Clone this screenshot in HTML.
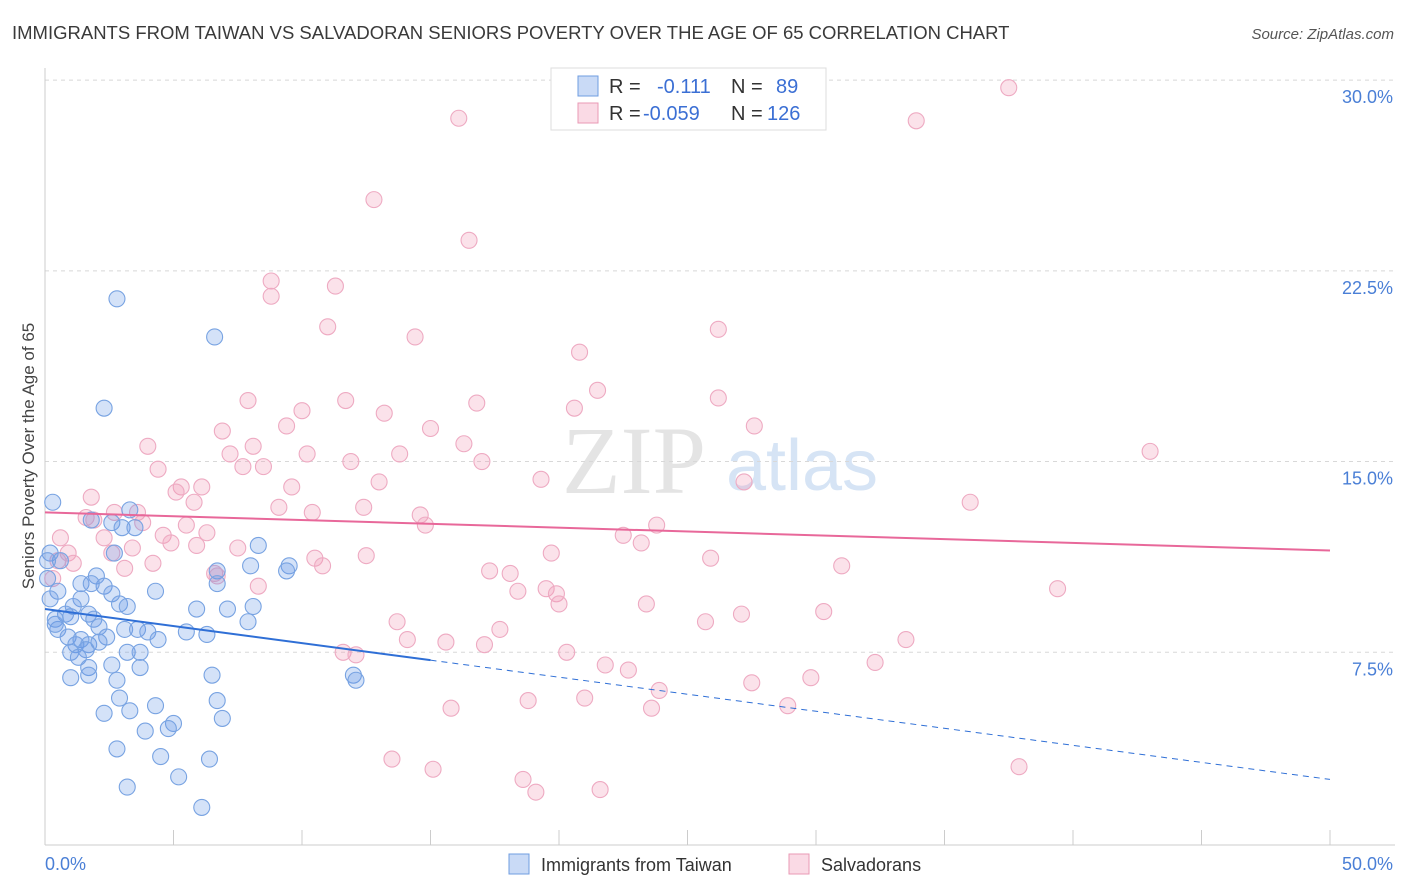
<!DOCTYPE html>
<html><head><meta charset="utf-8">
<style>
body{margin:0;background:#fff;font-family:"Liberation Sans",sans-serif;}
#wrap{position:relative;width:1406px;height:892px;overflow:hidden;}
</style></head>
<body>
<div id="wrap">
<svg id="svg" width="1406" height="892" xmlns="http://www.w3.org/2000/svg">
<text x="12" y="39" font-size="18.5" fill="#3a3a3a">IMMIGRANTS FROM TAIWAN VS SALVADORAN SENIORS POVERTY OVER THE AGE OF 65 CORRELATION CHART</text>
<text x="1394" y="39" font-size="15" fill="#555" font-style="italic" text-anchor="end">Source: ZipAtlas.com</text>
<text x="634" y="493" font-size="96" fill="#e4e4e4" font-family="Liberation Serif,serif" text-anchor="middle">ZIP</text>
<text x="802" y="490" font-size="72" fill="#d6e4f5" text-anchor="middle">atlas</text>
<g id="grid"></g><g id="axes"></g><g id="pts"></g><g id="trend"></g>
<text x="34" y="456" font-size="17" fill="#444" text-anchor="middle" transform="rotate(-90 34 456)">Seniors Poverty Over the Age of 65</text>
<g>
<rect x="551" y="68" width="275" height="62" fill="#fff" stroke="#ddd"/>
<rect x="578" y="76" width="20" height="20" fill="rgba(100,150,230,0.35)" stroke="#6f9de0"/>
<text x="609" y="93" font-size="20" fill="#333">R = </text>
<text x="657" y="93" font-size="20" fill="#3b6fd4">-0.111</text>
<text x="731" y="93" font-size="20" fill="#333">N =</text>
<text x="776" y="93" font-size="20" fill="#3b6fd4">89</text>
<rect x="578" y="103" width="20" height="20" fill="rgba(240,150,180,0.35)" stroke="#e99ab5"/>
<text x="609" y="120" font-size="20" fill="#333">R = </text>
<text x="643" y="120" font-size="20" fill="#3b6fd4">-0.059</text>
<text x="731" y="120" font-size="20" fill="#333">N =</text>
<text x="767" y="120" font-size="20" fill="#3b6fd4">126</text>
</g>
<g>
<rect x="509" y="854" width="20" height="20" fill="rgba(100,150,230,0.35)" stroke="#6f9de0"/>
<text x="541" y="871" font-size="18" fill="#333">Immigrants from Taiwan</text>
<rect x="789" y="854" width="20" height="20" fill="rgba(240,150,180,0.35)" stroke="#e99ab5"/>
<text x="821" y="871" font-size="18" fill="#333">Salvadorans</text>
</g>
</svg>
</div>
<script>
const yTicks=[7.5,15,22.5,30];
const yTickLabels=["7.5%","15.0%","22.5%","30.0%"];
const xTicks=[0,5,10,15,20,25,30,35,40,45,50];
const blueX=[0.3,2.8,6.6,2.3,3.3,2.6,3.0,3.5,1.8,8.3,0.2,0.6,2.7,8.0,9.5,9.4,6.7,0.1,2.0,1.4,2.3,1.8,6.7,2.6,4.3,1.4,0.5,2.9,3.2,5.9,7.1,8.1,1.1,1.7,0.8,1.0,0.4,1.9,7.9,0.5,2.1,3.1,3.6,4.0,5.5,6.3,0.9,1.4,2.4,4.4,1.2,1.7,2.1,1.0,1.6,3.2,3.7,1.3,2.6,1.7,3.7,6.5,12.0,1.0,1.7,2.8,12.1,2.9,4.3,6.7,2.3,3.3,6.9,5.0,4.8,3.9,2.8,4.5,6.4,5.2,3.2,6.1,0.1,0.2,0.4];
const blueY=[13.4,21.4,19.9,17.1,13.1,12.6,12.4,12.4,12.7,11.7,11.4,11.1,11.4,10.9,10.9,10.7,10.7,10.4,10.5,10.2,10.1,10.2,10.2,9.8,9.9,9.6,9.9,9.4,9.3,9.2,9.2,9.3,9.3,9.0,9.0,8.9,8.8,8.8,8.7,8.4,8.5,8.4,8.4,8.3,8.3,8.2,8.1,8.0,8.1,8.0,7.8,7.8,7.9,7.5,7.6,7.5,7.5,7.3,7.0,6.9,6.9,6.6,6.6,6.5,6.6,6.4,6.4,5.7,5.4,5.6,5.1,5.2,4.9,4.7,4.5,4.4,3.7,3.4,3.3,2.6,2.2,1.4,11.1,9.6,8.6];
const pinkX=[37.5,16.1,33.9,12.8,16.5,8.8,11.3,8.8,11.0,26.2,14.4,20.8,21.5,7.9,11.7,16.8,26.2,10.0,13.2,20.6,9.4,6.9,15.0,27.6,4.0,8.1,16.3,7.2,10.2,13.8,43.0,11.9,17.0,4.4,7.7,8.5,19.3,27.2,5.3,6.1,5.1,13.0,9.6,1.8,5.8,36.0,9.1,12.4,2.7,3.6,10.4,14.6,1.6,1.9,3.8,5.5,14.8,23.8,6.3,4.6,0.6,2.3,22.5,4.9,23.2,5.9,7.5,3.4,0.9,2.6,19.7,12.5,10.5,25.9,0.5,1.1,4.2,10.8,31.0,3.1,17.3,18.1,6.6,6.7,0.3,8.3,19.5,39.4,18.4,19.9,20.0,23.4,30.3,27.1,13.7,25.7,17.7,14.1,15.6,17.1,33.5,11.6,12.1,20.3,21.8,22.7,32.3,29.8,27.5,23.9,21.0,18.8,15.8,23.6,28.9,13.5,15.1,37.9,18.6,19.1,21.6];
const pinkY=[29.7,28.5,28.4,25.3,23.7,22.1,21.9,21.5,20.3,20.2,19.9,19.3,17.8,17.4,17.4,17.3,17.5,17.0,16.9,17.1,16.4,16.2,16.3,16.4,15.6,15.6,15.7,15.3,15.3,15.3,15.4,15.0,15.0,14.7,14.8,14.8,14.3,14.2,14.0,14.0,13.8,14.2,14.0,13.6,13.4,13.4,13.2,13.2,13.0,13.0,13.0,12.9,12.8,12.7,12.6,12.5,12.5,12.5,12.2,12.1,12.0,12.0,12.1,11.8,11.8,11.7,11.6,11.6,11.4,11.4,11.4,11.3,11.2,11.2,11.1,11.0,11.0,10.9,10.9,10.8,10.7,10.6,10.6,10.5,10.4,10.1,10.0,10.0,9.9,9.8,9.4,9.4,9.1,9.0,8.7,8.7,8.4,8.0,7.9,7.8,8.0,7.5,7.4,7.5,7.0,6.8,7.1,6.5,6.3,6.0,5.7,5.6,5.3,5.3,5.4,3.3,2.9,3.0,2.5,2.0,2.1];
const blueTrend=[9.2,2.5];
const pinkTrend=[13.0,11.5];
const blueSolidEnd=15;

const NS="http://www.w3.org/2000/svg";
const xs=v=>45+v*25.7;
const ys=v=>843-v*25.43;
function mk(tag,attrs,parent){const e=document.createElementNS(NS,tag);for(const k in attrs)e.setAttribute(k,attrs[k]);parent.appendChild(e);return e;}
const grid=document.getElementById('grid'),axes=document.getElementById('axes'),pts=document.getElementById('pts'),tr=document.getElementById('trend');
yTicks.forEach((t,i)=>{
 const l=mk('line',{x1:45,x2:1395,y1:ys(t),y2:ys(t),stroke:'#d8d8d8','stroke-dasharray':'4 4'},grid);
 
 
 const tx=mk('text',{x:1393,y:ys(t)+23,'font-size':18,fill:'#4a7fd6','text-anchor':'end'},axes);
 tx.textContent=yTickLabels[i];
 
 
});
const ya=mk('line',{x1:45,x2:45,y1:68,y2:845,stroke:'#ccc'},axes);


const xa=mk('line',{x1:45,x2:1395,y1:845,y2:845,stroke:'#ccc'},axes);


xTicks.forEach(t=>{
 const l=mk('line',{x1:xs(t),x2:xs(t),y1:830,y2:845,stroke:'#ccc'},axes);
 
 
});
const x0=mk('text',{x:45,y:870,'font-size':18,fill:'#4a7fd6'},axes);x0.textContent='0.0%';


const x1=mk('text',{x:1393,y:870,'font-size':18,fill:'#4a7fd6','text-anchor':'end'},axes);x1.textContent='50.0%';


pinkX.forEach((v,i)=>{
 const c=mk('circle',{cx:xs(v),cy:ys(pinkY[i]),r:8,fill:'rgba(240,150,180,0.28)',stroke:'#eeaac2','stroke-width':1.1},pts);
 
 
});
blueX.forEach((v,i)=>{
 const c=mk('circle',{cx:xs(v),cy:ys(blueY[i]),r:8,fill:'rgba(100,150,230,0.28)',stroke:'#78a3e2','stroke-width':1.1},pts);
 
 
});
const by=v=>blueTrend[0]+(blueTrend[1]-blueTrend[0])*v/50;
const b1=mk('line',{x1:xs(0),y1:ys(by(0)),x2:xs(blueSolidEnd),y2:ys(by(blueSolidEnd)),stroke:'#2f6fd6','stroke-width':2},tr);


const b2=mk('line',{x1:xs(blueSolidEnd),y1:ys(by(blueSolidEnd)),x2:xs(50),y2:ys(by(50)),stroke:'#2f6fd6','stroke-width':1,'stroke-dasharray':'6 5'},tr);


const p1=mk('line',{x1:xs(0),y1:ys(pinkTrend[0]),x2:xs(50),y2:ys(pinkTrend[1]),stroke:'#e8689a','stroke-width':2},tr);


</script>
</body></html>
